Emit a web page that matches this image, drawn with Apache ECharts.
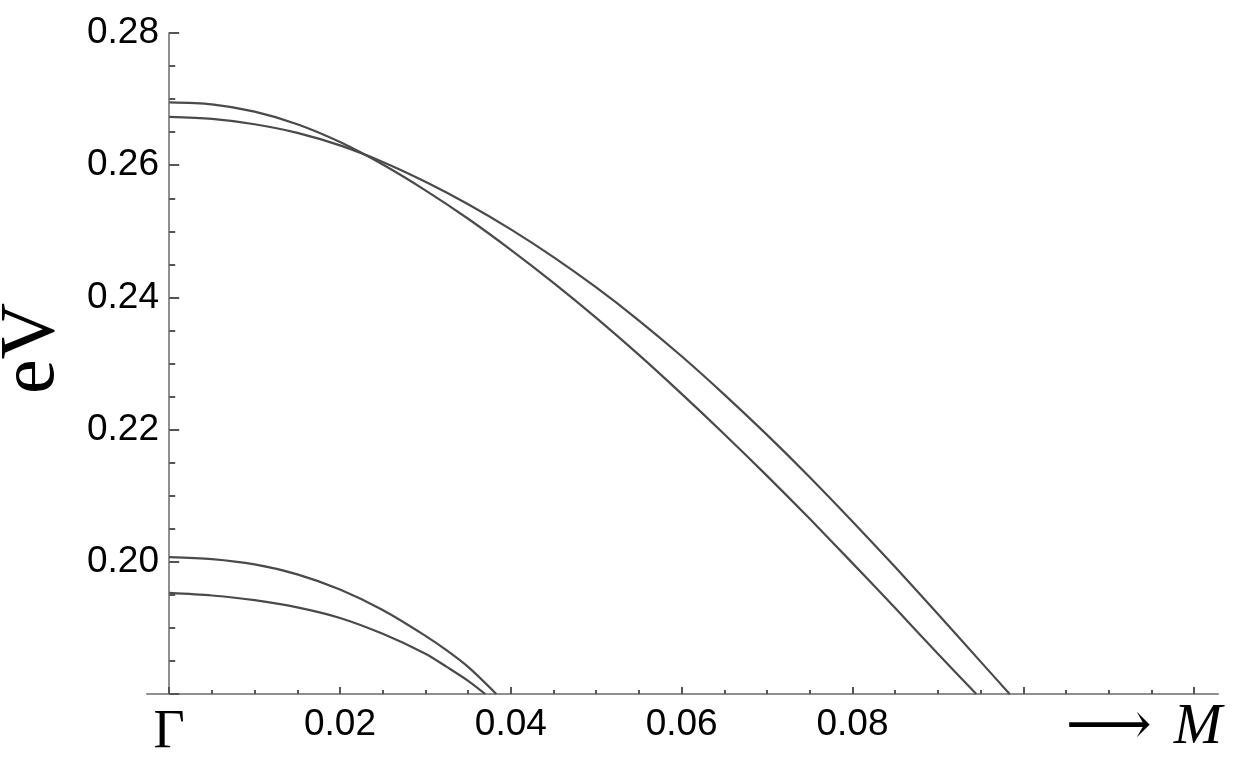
<!DOCTYPE html>
<html><head><meta charset="utf-8">
<script src="https://cdn.jsdelivr.net/npm/echarts@6/dist/echarts.min.js"></script>
<style>html,body{margin:0;padding:0;background:#fff}#c{width:1242px;height:764px}</style>
</head><body><div id="c"></div>
<script>
// ---- data ----
const xMajorTicks = [0, 0.02, 0.04, 0.06, 0.08, 0.10, 0.12];
const xLabelValues = [0, 0.02, 0.04, 0.06, 0.08];
const xMinorTicks = [0.005, 0.01, 0.015, 0.025, 0.03, 0.035, 0.045, 0.05, 0.055,
  0.065, 0.07, 0.075, 0.085, 0.09, 0.095, 0.105, 0.11, 0.115];

// upper pair of bands (they cross near k = 0.022)
const bandA_x = [0, 0.005, 0.01, 0.015, 0.02, 0.025, 0.03, 0.035, 0.04, 0.045, 0.05,
  0.055, 0.06, 0.065, 0.07, 0.075, 0.08, 0.085, 0.09, 0.0945];
const bandA_y = [0.2695, 0.2692, 0.2681, 0.2662, 0.2635, 0.2601, 0.2562, 0.2519, 0.2472,
  0.2422, 0.2369, 0.2313, 0.2254, 0.2193, 0.2130, 0.2065, 0.1998, 0.1930, 0.1861, 0.18];
const bandB_x = [0, 0.005, 0.01, 0.015, 0.02, 0.025, 0.03, 0.035, 0.04, 0.045, 0.05,
  0.055, 0.06, 0.065, 0.07, 0.075, 0.08, 0.085, 0.09, 0.095, 0.0984];
const bandB_y = [0.2673, 0.2670, 0.2662, 0.2649, 0.2630, 0.2605, 0.2575, 0.2541, 0.2503,
  0.2461, 0.2415, 0.2365, 0.2311, 0.2253, 0.2192, 0.2128, 0.2061, 0.1992, 0.1921, 0.1849, 0.18];

// lower pair of bands
const bandC_x = [0, 0.005, 0.01, 0.015, 0.02, 0.025, 0.03, 0.0325, 0.035, 0.0383];
const bandC_y = [0.2007, 0.2004, 0.1996, 0.1981, 0.1958, 0.1927, 0.1888, 0.1866, 0.1841, 0.18];
const bandD_x = [0, 0.005, 0.01, 0.015, 0.02, 0.025, 0.03, 0.0325, 0.035, 0.0370];
const bandD_y = [0.1953, 0.1949, 0.1942, 0.1931, 0.1915, 0.1891, 0.1861, 0.1841, 0.1820, 0.18];

const xMin = -0.0026, xMax = 0.1228;
const yMin = 0.18, yMax = 0.28, yStep = 0.02;

// ---- chart ----
const zip = (xs, ys) => xs.map((x, i) => [x, ys[i]]);
const axisColor = '#8f8f8f', tickColor = '#555';
const serif = "'Liberation Serif','DejaVu Serif',serif";
const sans = "'Liberation Sans',Arial,sans-serif";

const lineSeries = (xs, ys) => ({
  type: 'line', data: zip(xs, ys), xAxisIndex: 0, yAxisIndex: 0,
  showSymbol: false, smooth: 0.3, clip: true,
  lineStyle: { color: '#4a4a4a', width: 2.2 }
});

const chart = echarts.init(document.getElementById('c'), null, { renderer: 'canvas' });
chart.setOption({
  animation: false,
  backgroundColor: '#fff',
  grid: { left: 147, top: 33, width: 1071, height: 661, containLabel: false, outerBoundsMode: 'none' },
  xAxis: [{
    type: 'value', min: xMin, max: xMax, position: 'bottom',
    axisLine: { onZero: false, lineStyle: { color: axisColor, width: 2 } },
    axisTick: { show: true, inside: true, length: 7, customValues: xMajorTicks,
      lineStyle: { color: tickColor, width: 2 } },
    axisLabel: { show: true, customValues: xLabelValues, margin: 12,
      color: '#000', fontSize: 37, fontFamily: sans,
      formatter: v => (Math.abs(v) < 1e-12 ? '{g|Γ}' : v.toFixed(2)),
      rich: { g: { fontSize: 54, fontFamily: serif, color: '#000' } } },
    splitLine: { show: false },
    name: '{a|⟶}{s|}{m|M}', nameLocation: 'end', nameGap: 4,
    nameTextStyle: { align: 'right', verticalAlign: 'top', padding: [4, 0, 0, 0],
      rich: {
        a: { fontSize: 60, fontFamily: serif, color: '#000' },
        s: { width: 22, fontSize: 20, fontFamily: serif },
        m: { fontSize: 58, fontFamily: serif, fontStyle: 'italic', color: '#000' }
      } }
  }, {
    type: 'value', min: xMin, max: xMax, position: 'bottom',
    axisLine: { show: false, onZero: false },
    axisTick: { show: true, inside: true, length: 4, customValues: xMinorTicks,
      lineStyle: { color: tickColor, width: 2 } },
    axisLabel: { show: false },
    splitLine: { show: false }
  }],
  yAxis: {
    type: 'value', min: yMin, max: yMax, interval: yStep,
    axisLine: { show: true, onZero: true, onZeroAxisIndex: 0, lineStyle: { color: axisColor, width: 2 } },
    axisTick: { show: true, inside: true, length: 10, lineStyle: { color: tickColor, width: 2 } },
    minorTick: { show: true, splitNumber: 4, length: 6, lineStyle: { color: tickColor, width: 2 } },
    axisLabel: { margin: -12, color: '#000', fontSize: 37, fontFamily: sans,
      formatter: v => (Math.abs(v - yMin) < 1e-9 ? '' : v.toFixed(2)) },
    splitLine: { show: false }, minorSplitLine: { show: false },
    name: 'eV', nameLocation: 'middle', nameRotate: 90, nameGap: 75, nameMoveOverlap: false,
    nameTextStyle: { fontSize: 78, fontFamily: serif, color: '#000', padding: [0, 0, 0, 30] }
  },
  series: [
    lineSeries(bandA_x, bandA_y),
    lineSeries(bandB_x, bandB_y),
    lineSeries(bandC_x, bandC_y),
    lineSeries(bandD_x, bandD_y)
  ]
});
</script></body></html>
